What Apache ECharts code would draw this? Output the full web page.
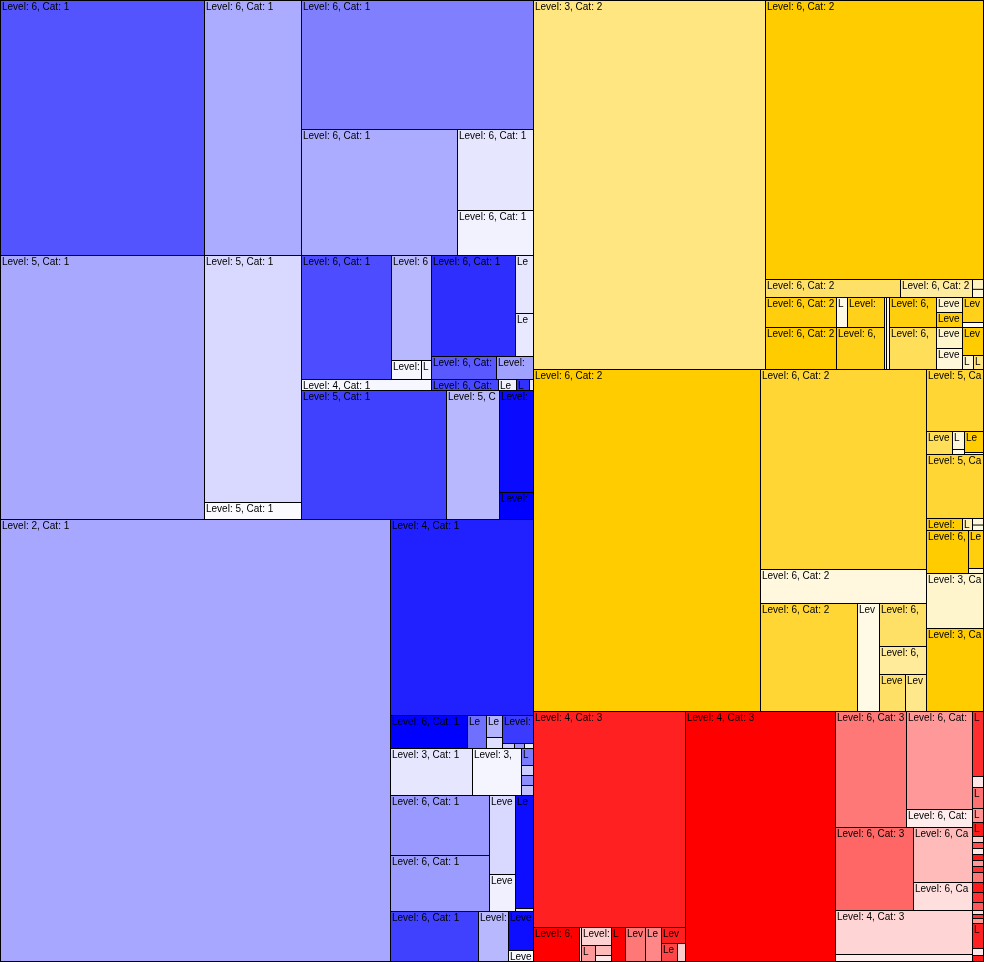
<!DOCTYPE html>
<html>
<head>
<meta charset="utf-8">
<script src="https://cdn.jsdelivr.net/npm/echarts/dist/echarts.min.js"></script>
<style>
html,body{margin:0;padding:0;background:#fff;}
#chart{width:984px;height:962px;}
</style>
</head>
<body>
<div id="chart"></div>
<script>
// ---- DATA ----
// leaf: [value, level, colorValue(0 = full hue .. 1 = near white)]; group: list of nodes
const categories = [1, 2, 3];

// Cat 1 (blue)
const blueN1 = [
  [[52020, 6, 0.33], [24735, 6, 0.67]],
  [53856, 5, 0.66], [23959, 5, 0.85], [1649, 5, 0.98]
];
const blueT = [[29928, 6, 0.5], [19656, 6, 0.67], [6156, 6, 0.9], [3420, 6, 0.95]];
const blueM = [
  [[[11160, 6, 0.3], [4200, 6, 0.72], [570, 6, 0.97], [190, 6, 0.96]], [1430, 4, 0.97]],
  [[[[8484, 6, 0.18], [1044, 6, 0.9], [774, 6, 0.91]], [[1495, 6, 0.35], [851, 6, 0.63]]],
   [[737, 6, 0.28], [198, 6, 0.94], [143, 6, 0.19], [44, 6, 0.9]]]
];
const blueB1 = [[[18705, 5, 0.25], [6837, 5, 0.72]], [[3468, 6, 0.04], [918, 6, 0.0]]];
const blueL2 = [172380, 2, 0.655];
const blueC = [
  [28028, 4, 0.13],
  [[2541, 6, 0], [627, 6, 0.44], [[352, 6, 0.7], [176, 6, 0.88]], [[868, 6, 0.23], [60, 6, 0.8], [50, 6, 0.6], [45, 6, 0.9]]],
  [[3854, 3, 0.9], [2303, 3, 0.96], [[204, 6, 0.48], [120, 6, 0.8], [120, 6, 0.55], [120, 6, 0.75]]],
  [[[[5940, 6, 0.6], [5544, 6, 0.61]], [[2054, 6, 0.85], [962, 6, 0.94]]], [[2034, 6, 0.05], [54, 6, 0.9]]],
  [[4400, 6, 0.25], [1500, 6, 0.72], [[975, 6, 0.05], [275, 6, 0.97]]]
];
const cat1Tree = [[blueN1, blueT, blueM, blueB1], blueL2, blueC];

// Cat 2 (yellow)
const yellowL3 = [85608, 3, 0.5];
const yellowTopRight = [
  [[60822, 6, 0], [2430, 6, 0.4], [1296, 6, 0.62], [108, 6, 0.75], [90, 6, 0.85]],
  [
    [[[2130, 6, 0.05], [2982, 6, 0]], [[[330, 6, 0.9], [1110, 6, 0.1]], [2016, 6, 0.1]]],
    [144, 6, 0.7], [216, 6, 0.85],
    [[[1410, 6, 0.05], [1974, 6, 0.35]], [[390, 6, 0.8], [390, 6, 0.05], [546, 6, 0.8], [546, 6, 0.85]]],
    [[525, 6, 0.1], [105, 6, 0.95], [588, 6, 0], [[154, 6, 0.8], [140, 6, 0.5]]]
  ]
];
const yellowL6 = [77634, 6, 0];
const yellowMid = [
  [[33200, 6, 0.2], [5644, 6, 0.87]],
  [[[10476, 6, 0.2], [2376, 6, 0.9]], [[2021, 6, 0.4], [1316, 6, 0.6], [962, 6, 0.4], [777, 6, 0.55]]]
];
const yellowRight = [
  [[3534, 5, 0.2],
   [[598, 6, 0.35], [[216, 6, 0.85], [60, 6, 0.9]], [[399, 6, 0], [38, 6, 0.8]]],
   [[3648, 5, 0.2], [[432, 6, 0], [120, 6, 0.7], [72, 6, 0.85], [60, 6, 0.9]]],
   [[1806, 6, 0], [[570, 6, 0.05], [75, 6, 0.8]]]],
  [3135, 3, 0.8], [4731, 3, 0]
];
const cat2Tree = [[yellowL3, yellowTopRight], [[yellowL6, yellowMid], yellowRight]];

// Cat 3 (red)
const redLeft = [
  [32832, 4, 0.13],
  [[1564, 6, 0], [68, 6, 0.9], [[540, 6, 0.82], [224, 6, 0.6], [160, 6, 0.73], [96, 6, 0.9]],
   [476, 6, 0], [680, 6, 0.47], [544, 6, 0.53], [[384, 6, 0.12], [288, 6, 0.27], [144, 6, 0.8]]]
];
const redL4 = [37500, 4, 0];
const redBlock = [
  [
    [
      [[8236, 6, 0.47], [6468, 6, 0.6], [1188, 6, 0.93]],
      [[6474, 6, 0.4], [3245, 6, 0.73], [1652, 6, 0.87]]
    ],
    [6028, 4, 0.83]
  ],
  [959, 3, 0.93]
];
const redEdge = [
  [715, 6, 0.18], [121, 6, 0.9], [231, 6, 0.44], [154, 6, 0.57], [154, 6, 0.1],
  [66, 6, 0.8], [66, 6, 0.3], [66, 6, 0.9], [66, 6, 0.1], [66, 6, 0.6], [66, 6, 0.2],
  [110, 6, 0.47], [110, 6, 0.1], [110, 6, 0.2], [88, 6, 0.35],
  [44, 6, 0.85], [44, 6, 0.2], [55, 6, 0.6], [275, 6, 0.13], [77, 6, 0.9], [66, 6, 0.1]
];
const cat3Tree = [redLeft, [redL4, redBlock], redEdge];

const catTrees = [cat1Tree, cat2Tree, cat3Tree];

// ---- STYLE ----
const BASE = {1: [0, 0, 255], 2: [255, 204, 0], 3: [255, 0, 0]};
function shade(cat, t) {
  const b = BASE[cat];
  return 'rgb(' + b.map(c => Math.round(c + (255 - c) * t)).join(',') + ')';
}
function build(node, cat) {
  if (typeof node[0] === 'number') {
    return {
      name: 'Level: ' + node[1] + ', Cat: ' + cat,
      value: node[0],
      itemStyle: {color: shade(cat, node[2])}
    };
  }
  return {name: '', children: node.map(n => build(n, cat))};
}

const chart = echarts.init(document.getElementById('chart'), null, {renderer: 'canvas'});
chart.setOption({
  animation: false,
  series: [{
    type: 'treemap',
    left: 0, top: 0, width: 984, height: 962,
    roam: false,
    nodeClick: false,
    breadcrumb: {show: false},
    sort: false,
    squareRatio: 1e-9,
    visibleMin: 0,
    itemStyle: {borderColor: '#000', borderWidth: 0, gapWidth: 1},
    levels: [{itemStyle: {borderColor: '#000', borderWidth: 1, gapWidth: 1}}],
    upperLabel: {show: false},
    label: {
      show: true,
      position: 'insideTopLeft',
      distance: 0,
      color: '#000',
      fontSize: 10,
      fontFamily: 'Liberation Sans, Arial, sans-serif',
      lineHeight: 8,
      padding: [2, 0, 0, 1],
      overflow: 'truncate',
      ellipsis: ''
    },
    data: catTrees.map((t, i) => build(t, categories[i]))
  }]
});
</script>
</body>
</html>
